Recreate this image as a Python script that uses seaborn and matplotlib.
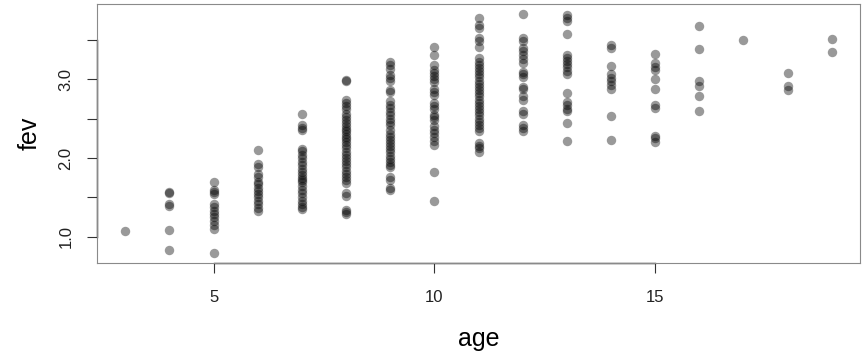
import numpy as np
import pandas as pd
import matplotlib
matplotlib.use("Agg")
import matplotlib.pyplot as plt
import seaborn as sns
from matplotlib.ticker import FixedLocator, FixedFormatter

# fev readings per age
fev_by_age = {
    3: [1.07],
    4: [1.57, 1.56, 1.42, 1.39, 1.09, 0.83],
    5: [1.70, 1.59, 1.57, 1.54, 1.42, 1.38, 1.33, 1.29, 1.25, 1.20, 1.15, 1.10, 0.79],
    6: [2.10, 1.92, 1.89, 1.80, 1.76, 1.70, 1.67, 1.62, 1.58, 1.54, 1.50, 1.46, 1.42, 1.36, 1.33],
    7: [2.56, 2.42, 2.38, 2.35, 2.11, 2.09, 2.04, 2.00, 1.95, 1.91, 1.86, 1.82, 1.78, 1.75,
        1.72, 1.69, 1.65, 1.60, 1.56, 1.50, 1.46, 1.42, 1.38, 1.35],
    8: [2.99, 2.97, 2.73, 2.70, 2.66, 2.62, 2.56, 2.52, 2.48, 2.44, 2.40, 2.37, 2.34, 2.30,
        2.27, 2.24, 2.20, 2.16, 2.12, 2.08, 2.04, 2.00, 1.96, 1.92, 1.88, 1.84, 1.80, 1.76,
        1.72, 1.68, 1.56, 1.52, 1.34, 1.31, 1.29],
    9: [3.22, 3.18, 3.13, 3.05, 3.01, 2.98, 2.86, 2.83, 2.72, 2.67, 2.63, 2.58, 2.54, 2.50,
        2.46, 2.42, 2.36, 2.31, 2.27, 2.23, 2.19, 2.15, 2.11, 2.07, 2.03, 1.99, 1.95, 1.91,
        1.88, 1.76, 1.72, 1.62, 1.60],
    10: [3.41, 3.31, 3.18, 3.12, 3.08, 3.04, 3.00, 2.96, 2.88, 2.84, 2.80, 2.70, 2.66, 2.62,
         2.55, 2.52, 2.48, 2.40, 2.36, 2.32, 2.26, 2.22, 2.17, 1.82, 1.46],
    11: [3.78, 3.68, 3.65, 3.52, 3.48, 3.41, 3.27, 3.22, 3.18, 3.14, 3.10, 3.06, 3.02, 2.98,
         2.94, 2.90, 2.86, 2.82, 2.78, 2.74, 2.70, 2.66, 2.62, 2.58, 2.54, 2.50, 2.46, 2.42,
         2.38, 2.34, 2.19, 2.15, 2.12, 2.07],
    12: [3.83, 3.52, 3.48, 3.40, 3.36, 3.31, 3.26, 3.21, 3.09, 3.06, 3.03, 2.90, 2.87, 2.78,
         2.74, 2.60, 2.56, 2.42, 2.38, 2.34],
    13: [3.81, 3.78, 3.74, 3.57, 3.31, 3.27, 3.23, 3.19, 3.15, 3.10, 3.06, 2.82, 2.71, 2.67,
         2.62, 2.59, 2.44, 2.21],
    14: [3.43, 3.40, 3.17, 3.07, 3.01, 2.97, 2.92, 2.88, 2.53, 2.23],
    15: [3.32, 3.21, 3.15, 3.11, 3.00, 2.88, 2.67, 2.63, 2.28, 2.25, 2.20],
    16: [3.67, 3.38, 2.98, 2.91, 2.78, 2.60],
    17: [3.49],
    18: [3.08, 2.91, 2.86],
    19: [3.51, 3.34],
}

x_ticks = [5, 10, 15]
y_ticks = [1.0, 1.5, 2.0, 2.5, 3.0, 3.5]
y_tick_labels = ["1.0", "", "2.0", "", "3.0", ""]

ages = []
fevs = []
for a, vals in fev_by_age.items():
    ages += [a] * len(vals)
    fevs += vals
df = pd.DataFrame({"age": ages, "fev": fevs})

plt.rcParams["font.family"] = ["Liberation Sans", "DejaVu Sans"]

fig = plt.figure(figsize=(8.64, 3.6), dpi=100)
ax = fig.add_axes([0.1123, 0.2694, 0.8831, 0.7195])

sns.scatterplot(data=df, x="age", y="fev", color="black", alpha=0.4, s=46,
                linewidth=0, ax=ax)

# R-style limits: 4% padding around the data range
xr = df["age"].max() - df["age"].min()
yr = df["fev"].max() - df["fev"].min()
ax.set_xlim(df["age"].min() - 0.04 * xr, df["age"].max() + 0.04 * xr)
ax.set_ylim(df["fev"].min() - 0.04 * yr, df["fev"].max() + 0.04 * yr)

ax.xaxis.set_major_locator(FixedLocator(x_ticks))
ax.yaxis.set_major_locator(FixedLocator(y_ticks))
ax.yaxis.set_major_formatter(FixedFormatter(y_tick_labels))
ax.tick_params(axis="both", direction="out", length=7.5, width=0.8, color="#333333",
               labelsize=12, labelcolor="#222222")
ax.tick_params(axis="x", pad=12)
ax.tick_params(axis="y", pad=9.5)
for lab in ax.get_yticklabels():
    lab.set_rotation(90)
    lab.set_va("center")

for sp in ax.spines.values():
    sp.set_color("#8a8a8a")
    sp.set_linewidth(0.8)

# darker axis lines spanning the tick range, like R's axis()
ax.plot([x_ticks[0], x_ticks[-1]], [0, 0], transform=ax.get_xaxis_transform(),
        color="#222222", lw=1.0, clip_on=False)
ax.plot([0, 0], [y_ticks[0], y_ticks[-1]], transform=ax.get_yaxis_transform(),
        color="#222222", lw=1.0, clip_on=False)

ax.set_xlabel("age", fontsize=18, labelpad=16)
ax.set_ylabel("fev", fontsize=18, labelpad=12)

fig.savefig("out.png", dpi=100)
